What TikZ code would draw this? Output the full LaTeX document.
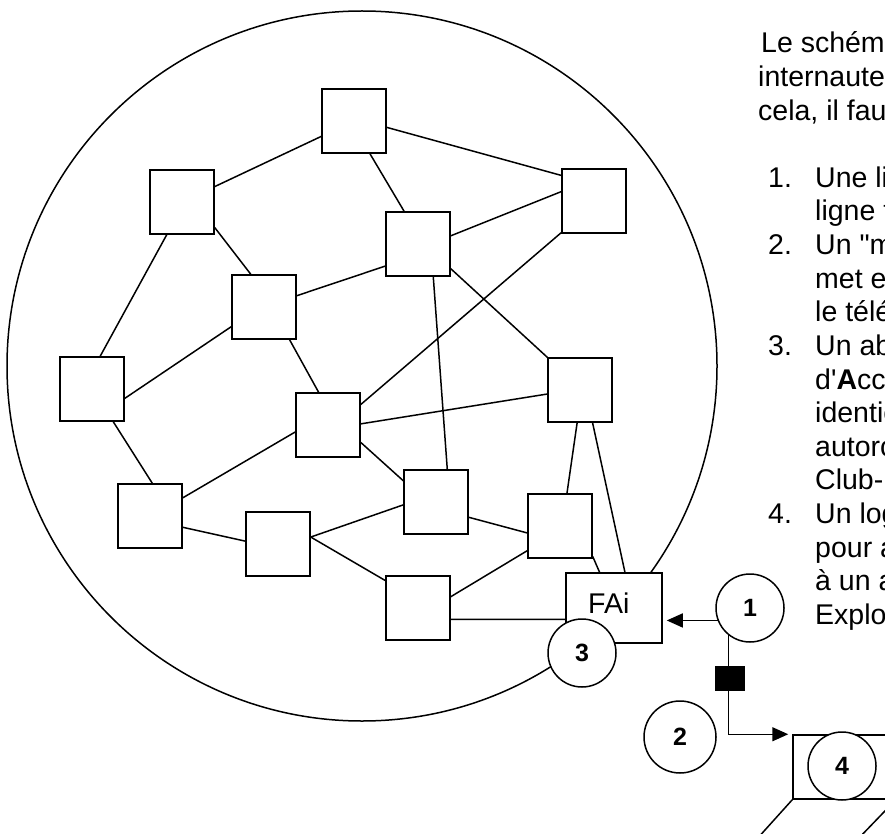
\documentclass[tikz,border=0pt]{standalone}
\usepackage{fontspec}
\setmainfont{Liberation Sans}
\newfontfamily\rawfont{Liberation Sans}[Ligatures=TeXOff]
\usetikzlibrary{arrows.meta}
\begin{document}
\begin{tikzpicture}[x=1pt,y=-1pt,
  box/.style={draw,line width=1.5pt,fill=white,minimum width=64pt,minimum height=64pt,inner sep=0pt},
  num/.style={draw,circle,line width=1.5pt,fill=white,minimum size=68pt,inner sep=0pt,font=\fontsize{25}{25}\selectfont\bfseries},
  txt/.style={anchor=base west,inner sep=0pt,font=\fontsize{28.5}{33}\selectfont},
  link/.style={line width=1.5pt},
  arr/.style={line width=1.5pt,-{Triangle[length=16pt,width=14pt]}}]
\useasboundingbox (0,0) rectangle (885,834);
% big circle
\draw[line width=1.5pt] (362,366) circle[radius=355pt];
% boxes
\node[box] (B1) at (354,121) {};
\node[box] (B2) at (182,202) {};
\node[box] (B3) at (418,244) {};
\node[box] (B4) at (264,307) {};
\node[box] (B5) at (92,389) {};
\node[box] (B6) at (328,425) {};
\node[box] (TR) at (594,201) {};
\node[box] (R) at (580,390) {};
\node[box] (B7) at (150,516) {};
\node[box] (B8) at (278,544) {};
\node[box] (B9) at (436,502) {};
\node[box] (B10) at (560,526) {};
\node[box] (B11) at (418,608) {};
% edges
\draw[link] (B1) -- (B2);
\draw[link] (B1.-11) -- (TR.142);
\draw[link] (B1.-64) -- (B3.113);
\draw[link] (B2.-115) -- (B5.76);
\draw[link] (B2.-38) -- (B4.112);
\draw[link] (B4.19) -- (B3.214);
\draw[link] (B4.211) -- (B5.-16);
\draw[link] (B4.-52) -- (B6.106);
\draw[link] (B3.14) -- (TR.164);
\draw[link] (B3.-37) -- (R.north west);
\draw[link] (B3.-65) -- (B9.71);
\draw[link] (B6.32) -- (TR.224);
\draw[link] (B6.2) -- (R.187);
\draw[link] (B5.-57) -- (B7.86);
\draw[link] (B6.192) -- (B7.29);
\draw[link] (B6.-28) -- (B9.147);
\draw[link] (B7.-19) -- (B8.175);
\draw[link] (B8.12) -- (B9.185);
\draw[link] (B8.12) -- (B11.140);
\draw[link] (B9.-25) -- (B10.192);
\draw[link] (B10.217) -- (B11.19);
\draw[link] (R.-95) -- (B10.78);
\node[box,minimum width=96pt,minimum height=70pt] (FAi) at (614,608) {};
\draw[link] (B11.-19) -- (FAi.193);
\draw[link] (R.-69) -- (FAi.73);
\draw[link] (B10.-43) -- (FAi.112);
\node[txt] (fait) at (588,613) {FAi};
% numbered circles
\node[num] (C3) at (582,653) {3};
\node[num] (C1) at (750,608) {1};
\node[num,minimum size=72pt] (C2) at (680,737) {2};
% computer
\node[draw,line width=1.5pt,fill=white,minimum width=102pt,minimum height=64pt,inner sep=0pt] (pc) at (844,767) {};
\node[num] (C4) at (842,766) {4};
\coordinate (k1) at (756,840);
\coordinate (k2) at (857,840);
\draw[link] (pc.south west) -- (k1);
\draw[link] (pc.south east) -- (k2);
% arrows
\draw[arr,shorten >=4pt] (C1.201) -- (C1.201 -| FAi.east);
\draw[arr] (C1.232) |- ([xshift=-4pt]pc.north west);
\node[fill=black,minimum width=30pt,minimum height=25pt,inner sep=0pt] (blk) at (730,678) {};
% text
\node[txt] (t1) at (761,53) {Le schéma};
\node[txt] (t2) at (758,86.6) {internautes};
\node[txt] (t3) at (758,120.2) {cela, il faut};
\node[txt] (n1) at (768,187.4) {1.};
\node[txt] (l1) at (815,187.4) {Une lia};
\node[txt] (l2) at (815,221) {ligne té};
\node[txt] (n2) at (768,254.6) {2.};
\node[txt] (l3) at (815,254.6) {Un {\rawfont"}mo};
\node[txt] (l4) at (815,288.2) {met en};
\node[txt] (l5) at (815,321.8) {le téléph};
\node[txt] (n3) at (768,355.4) {3.};
\node[txt] (l6) at (815,355.4) {Un abo};
\node[txt] (l7) at (815,389) {d{\rawfont'}\textbf{A}ccès};
\node[txt] (l8) at (815,422.6) {identic};
\node[txt] (l9) at (815,456.2) {autorc};
\node[txt] (l10) at (815,489.8) {Club-In};
\node[txt] (n4) at (768,523.4) {4.};
\node[txt] (l11) at (815,523.4) {Un logi};
\node[txt] (l12) at (815,557) {pour ac};
\node[txt] (l13) at (815,590.6) {à un an};
\node[txt] (l14) at (815,624.2) {Explor};
\end{tikzpicture}
\end{document}
